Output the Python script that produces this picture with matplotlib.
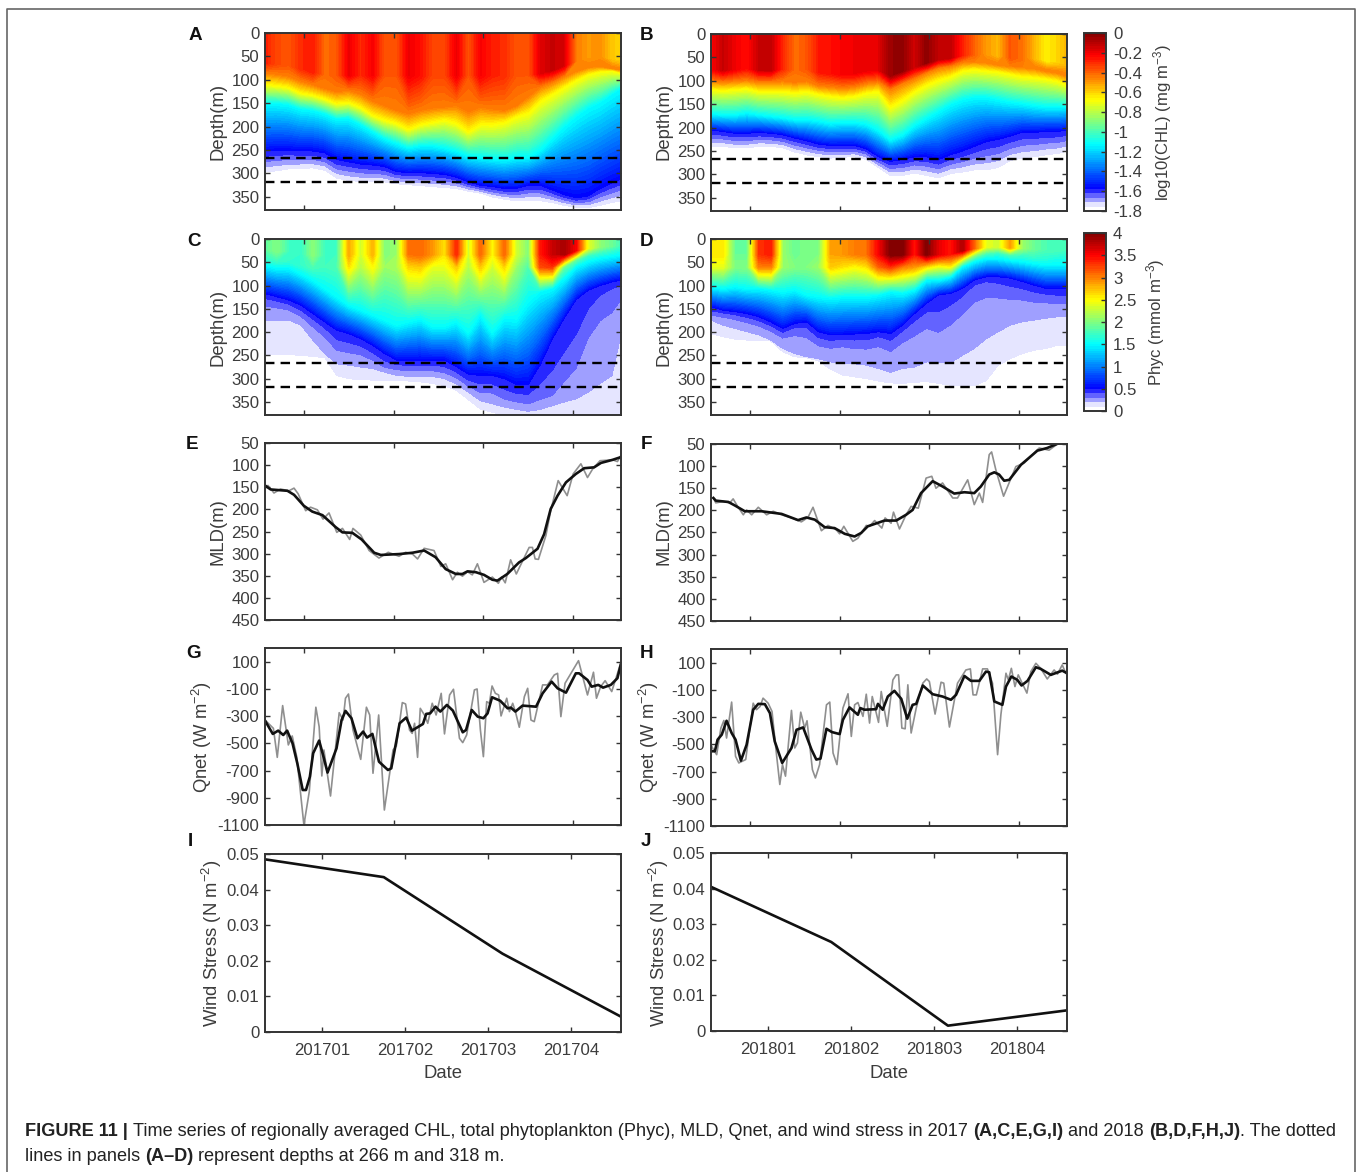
import matplotlib
matplotlib.use('Agg')
import matplotlib.pyplot as plt
import numpy as np
from matplotlib.colors import LinearSegmentedColormap

# days since the left edge of every panel
t_grid = [0, 4, 8, 12, 16, 20, 24, 28, 32, 36, 40, 44, 48, 52, 56, 60, 64, 68, 72, 76, 80, 84, 88, 92, 96, 100, 104, 108, 112, 116, 119]
tick_days = [13.2, 43, 73, 103]
wind_tick_days = [19, 46.8, 74.5, 102.3]

# panel A: log10(CHL), surface value and depth of each isoline
a_surf = [-0.28, -0.35, -0.38, -0.3, -0.27, -0.42, -0.38, -0.2, -0.3, -0.22, -0.38, -0.38, -0.2, -0.25, -0.35, -0.35, -0.2, -0.38, -0.22, -0.28, -0.3, -0.38, -0.38, -0.18, -0.13, -0.16, -0.45, -0.5, -0.48, -0.58, -0.6]
a_orange = [85, 88, 92, 102, 110, 118, 125, 122, 130, 145, 155, 165, 172, 165, 160, 158, 155, 168, 158, 162, 165, 155, 135, 115, 105, 92, 80, 72, 70, 75, 78]
a_yellow = [110, 112, 116, 128, 132, 140, 150, 148, 158, 175, 185, 192, 205, 195, 190, 185, 192, 210, 195, 195, 190, 178, 170, 145, 130, 115, 100, 88, 82, 80, 85]
a_cyan = [150, 150, 153, 162, 165, 172, 183, 182, 195, 210, 225, 235, 245, 240, 240, 245, 252, 262, 265, 268, 270, 265, 265, 250, 225, 200, 178, 160, 148, 130, 118]
a_blue = [252, 250, 250, 252, 252, 256, 270, 275, 280, 282, 285, 296, 298, 298, 300, 302, 308, 318, 325, 328, 332, 332, 325, 325, 335, 345, 352, 348, 332, 320, 312]
a_pale = [297, 294, 290, 289, 288, 293, 310, 315, 317, 318, 318, 322, 324, 326, 328, 330, 332, 338, 342, 350, 355, 358, 358, 358, 362, 368, 372, 373, 368, 362, 358]

# panel B
b_surf = [-0.22, -0.13, -0.2, -0.25, -0.13, -0.12, -0.3, -0.42, -0.38, -0.27, -0.25, -0.22, -0.2, -0.2, -0.18, -0.05, -0.03, -0.15, -0.03, -0.12, -0.12, -0.28, -0.4, -0.5, -0.55, -0.38, -0.42, -0.55, -0.65, -0.6, -0.55]
b_orange = [100, 102, 100, 98, 102, 102, 100, 103, 100, 110, 112, 115, 112, 105, 102, 118, 105, 95, 82, 72, 68, 60, 58, 60, 65, 68, 70, 72, 78, 82, 88]
b_yellow = [118, 120, 118, 116, 122, 122, 122, 125, 122, 128, 132, 135, 132, 125, 122, 155, 140, 122, 108, 98, 90, 78, 75, 78, 80, 85, 90, 92, 95, 100, 108]
b_cyan = [170, 172, 172, 168, 172, 175, 178, 182, 182, 185, 190, 188, 188, 192, 205, 225, 215, 195, 180, 165, 150, 140, 135, 135, 140, 145, 148, 152, 155, 155, 155]
b_blue = [205, 208, 212, 212, 210, 212, 215, 222, 228, 235, 238, 238, 238, 245, 262, 272, 268, 262, 262, 268, 258, 250, 240, 230, 225, 218, 210, 210, 208, 208, 205]
b_pale = [240, 240, 243, 243, 240, 240, 243, 252, 258, 262, 265, 263, 262, 268, 285, 302, 302, 297, 302, 307, 298, 295, 290, 290, 285, 270, 265, 262, 258, 255, 250]

# panel C: Phyc
c_surf = [1.85, 2.0, 1.75, 1.7, 2.05, 1.75, 1.75, 2.85, 2.3, 2.8, 2.0, 2.1, 3.05, 3.1, 2.9, 2.6, 3.35, 2.3, 3.1, 2.5, 3.1, 2.3, 2.0, 3.4, 3.7, 3.85, 3.5, 2.4, 2.05, 1.9, 1.75]
c_mid = [1.7, 1.75, 1.7, 1.7, 1.8, 1.75, 1.8, 2.6, 2.2, 2.5, 2.1, 2.15, 2.65, 2.7, 2.4, 2.4, 2.7, 2.2, 2.7, 2.3, 2.65, 2.1, 1.8, 3.2, 3.3, 1.9, 1.9, 1.7, 1.7, 1.65, 1.6]
c_cyan = [56, 62, 62, 74, 88, 106, 124, 142, 152, 163, 174, 185, 178, 172, 188, 188, 178, 201, 163, 201, 170, 172, 135, 113, 106, 84, 59, 48, 41, 37, 34]
c_blue = [117, 124, 131, 142, 160, 178, 196, 203, 214, 228, 246, 260, 260, 260, 260, 260, 274, 290, 293, 293, 300, 312, 312, 270, 215, 170, 130, 110, 100, 92, 88]
c_band3 = [135, 140, 146, 160, 180, 200, 230, 236, 241, 255, 272, 277, 279, 279, 279, 283, 294, 312, 324, 324, 338, 345, 349, 338, 329, 293, 257, 178, 135, 117, 106]
c_band2 = [174, 174, 174, 185, 217, 246, 268, 271, 275, 278, 286, 293, 295, 295, 295, 300, 311, 329, 347, 354, 361, 366, 370, 366, 358, 350, 343, 329, 310, 293, 206]
c_band1 = [250, 248, 248, 250, 252, 255, 293, 300, 302, 303, 303, 304, 305, 307, 310, 315, 325, 345, 365, 372, 379, 385, 395, 400, 400, 400, 400, 400, 400, 400, 400]

# panel D
d_surf = [2.6, 2.6, 1.9, 1.9, 3.3, 3.4, 2.1, 1.9, 2.0, 2.0, 2.85, 2.9, 3.0, 3.05, 3.5, 4.0, 4.0, 3.4, 4.0, 3.6, 3.4, 3.8, 3.1, 2.4, 2.3, 2.9, 2.1, 1.9, 1.8, 1.8, 1.75]
d_mid = [2.4, 2.4, 2.0, 2.0, 3.0, 3.0, 2.1, 2.0, 2.0, 2.1, 2.7, 2.6, 2.5, 2.6, 3.1, 3.3, 3.0, 2.9, 2.6, 2.4, 2.5, 2.4, 2.0, 1.8, 1.7, 1.8, 1.7, 1.7, 1.65, 1.6, 1.6]
d_cyan = [102, 106, 102, 106, 106, 109, 113, 109, 120, 124, 127, 124, 124, 124, 120, 113, 116, 109, 88, 88, 81, 59, 48, 41, 41, 45, 48, 52, 55, 55, 55]
d_blue = [145, 153, 156, 160, 167, 178, 192, 181, 178, 199, 206, 206, 204, 203, 199, 203, 185, 160, 138, 120, 117, 106, 88, 81, 81, 84, 91, 99, 106, 106, 106]
d_band3 = [160, 163, 167, 174, 181, 192, 206, 196, 199, 221, 226, 221, 226, 226, 217, 228, 206, 188, 170, 181, 160, 135, 106, 99, 105, 113, 117, 124, 127, 131, 131]
d_band2 = [174, 185, 192, 199, 206, 217, 235, 246, 253, 257, 264, 266, 268, 271, 278, 286, 278, 275, 264, 265, 266, 250, 235, 214, 199, 185, 178, 174, 170, 167, 167]
d_band1 = [203, 210, 215, 217, 217, 219, 242, 253, 255, 262, 280, 292, 296, 300, 305, 309, 310, 308, 306, 310, 314, 315, 315, 304, 271, 257, 246, 239, 235, 228, 228]

chl_iso = [-0.45, -0.675, -1.125, -1.575, -1.755]
phyc_iso = [1.5, 0.5, 0.33, 0.2, 0.1]

# panel E: MLD
e_grey_t = [0, 1, 3, 5.2, 8, 9.7, 11.1, 13.6, 15.2, 17.5, 19.4, 21.4, 24, 25.9, 28.3, 29.4, 32, 34.8, 38.1, 41.2, 44.8, 47, 49.3, 51, 53.2, 56.5, 58.8, 60.4, 62.7, 64.3, 66, 67.7, 69.3, 71, 73.2, 76, 78, 79.1, 80.3, 82.1, 84, 88.3, 89.4, 90.3, 91.4, 93.9, 95.5, 98, 101, 103, 105.6, 107.8, 109.5, 112, 116.2, 117.8, 118.9]
e_grey = [150, 146, 163, 154, 158, 152, 165, 203, 195, 201, 222, 208, 252, 243, 268, 243, 258, 293, 310, 297, 306, 297, 301, 312, 288, 293, 329, 323, 359, 342, 351, 341, 348, 323, 365, 353, 367, 353, 366, 314, 346, 286, 286, 312, 313, 259, 203, 135, 169, 120, 97, 128, 109, 90, 88, 92, 79]
e_black_t = [0, 1.9, 7.5, 9.7, 13, 15.8, 19.2, 23.6, 25.9, 29.2, 32.3, 36.5, 38.7, 44.8, 49.3, 53.2, 57, 60.4, 63.8, 66, 67.7, 70.5, 73.2, 76, 77.7, 81, 84.9, 87.2, 91.1, 93.3, 95.5, 97.8, 100.6, 103.9, 106.7, 110, 112.3, 116.2, 118.9]
e_black = [146, 155, 158, 167, 192, 205, 213, 240, 252, 253, 268, 298, 303, 301, 298, 293, 308, 335, 346, 346, 340, 342, 348, 359, 361, 346, 320, 310, 289, 256, 199, 169, 139, 120, 107, 105, 95, 88, 82]

# panel F
f_grey_t = [0.8, 1.6, 4.1, 6.3, 7.4, 8.9, 10.8, 11.9, 13.6, 15.8, 18.6, 20.8, 23.6, 27, 30.2, 32.4, 34.1, 36.9, 39.1, 41.9, 43, 44.4, 47.4, 49.1, 51.9, 53, 54.7, 57.1, 58.2, 60.2, 61, 63, 65.2, 66.9, 69.3, 71.9, 73.8, 75.2, 77.4, 80.8, 82.4, 85.8, 88, 89.7, 90.8, 93, 93.8, 95.2, 97.8, 101.9, 104.7, 109.7, 113, 115.8]
f_grey = [172, 183, 180, 183, 174, 191, 210, 199, 210, 193, 210, 202, 210, 217, 226, 216, 193, 246, 234, 244, 253, 236, 270, 263, 234, 236, 223, 240, 217, 229, 204, 242, 210, 191, 195, 127, 123, 150, 138, 172, 172, 131, 187, 161, 182, 74, 68, 108, 168, 101, 93, 59, 64, 50]
f_black_t = [0.8, 1.6, 5.8, 8, 11.3, 16.9, 23.6, 29.1, 31.9, 34.7, 38, 41.3, 44.7, 48, 50.2, 52.4, 58, 61.9, 65.2, 67.4, 70.2, 74.1, 77.4, 81.3, 84.7, 88, 90.2, 93, 94.7, 96.3, 98, 99.7, 103.6, 109.1, 112.4, 116.3]
f_black = [172, 178, 181, 189, 202, 202, 208, 222, 216, 221, 238, 240, 253, 259, 251, 236, 223, 223, 210, 199, 161, 134, 146, 162, 159, 161, 146, 119, 114, 119, 133, 131, 97, 65, 59, 48]

# panel G: Qnet
g_grey_t = [0, 2.8, 4.1, 5.9, 7.8, 9.1, 10.6, 13, 14.8, 17, 18.1, 19, 19.7, 21.9, 24.8, 26.1, 26.9, 27.9, 29.4, 32, 33.9, 35, 36.1, 38, 39.9, 42.8, 43.9, 45.9, 47, 48.3, 49.2, 50, 51, 51.9, 53.3, 54.4, 55.9, 57.2, 58.9, 60, 61.7, 63, 65, 66.1, 67.4, 70, 70.9, 72, 73, 74.1, 75, 75.9, 77, 78.1, 78.9, 80.8, 81.7, 82.8, 83.7, 85, 86.7, 87.8, 88.9, 90, 92.8, 94.4, 96.7, 97.8, 98.9, 100.3, 104.8, 107.8, 109.8, 110.8, 112.2, 113.7, 115.9, 118.9]
g_grey = [-329, -390, -603, -223, -512, -446, -598, -1100, -855, -235, -378, -740, -549, -887, -275, -329, -169, -138, -402, -618, -235, -292, -720, -292, -990, -549, -520, -201, -211, -402, -427, -353, -603, -243, -292, -353, -206, -292, -133, -431, -145, -103, -463, -495, -439, -108, -101, -402, -598, -194, -206, -79, -133, -145, -299, -169, -267, -206, -267, -382, -157, -96, -329, -341, -71, -71, 2, 14, -304, -59, 107, -145, 22, -169, -84, -40, -120, 88]
g_black_t = [0, 2.6, 4.4, 6.1, 7.4, 9.2, 10.8, 12.6, 13.7, 15, 16.1, 18.1, 19.4, 20.9, 23.9, 25.6, 26.9, 28.9, 30.9, 32.8, 34.1, 35.9, 38.1, 41.1, 42.2, 45, 47.2, 49.1, 52.8, 53.9, 55.2, 57, 58.6, 60.8, 62.8, 66.1, 67.2, 69.1, 71.1, 73, 74.4, 75.9, 78.6, 81.1, 82.2, 83.7, 86.1, 90.6, 92.8, 95.8, 97.8, 100.6, 103.9, 105, 107.8, 109.2, 111.4, 113, 115.6, 117.8, 118.9]
g_black = [-333, -431, -407, -439, -407, -500, -647, -843, -843, -745, -573, -480, -586, -715, -537, -329, -262, -316, -463, -414, -458, -431, -635, -696, -684, -353, -311, -407, -358, -284, -280, -231, -267, -218, -260, -419, -402, -255, -304, -316, -280, -162, -187, -243, -238, -267, -223, -231, -133, -47, -96, -128, 14, 14, -35, -84, -71, -91, -71, -22, 76]

# panel H
h_grey_t = [0, 0.8, 1.9, 3.3, 4.3, 5.2, 6.9, 8.2, 9.3, 11.6, 12.4, 14.1, 15.2, 16.4, 17.4, 19.1, 20.4, 21.9, 23, 23.9, 24.9, 26.9, 28, 28.9, 30, 31.3, 32.1, 33.9, 34.9, 36.3, 38.6, 39.7, 40.8, 42.1, 44.1, 45.8, 46.9, 48, 49.1, 50.8, 51.9, 53, 53.9, 56, 56.9, 58.9, 60.8, 61.9, 62.7, 63.8, 64.9, 65.8, 66.9, 68.6, 70.8, 72.1, 73, 74.9, 76.9, 77.8, 79.7, 82.4, 85.2, 86.7, 87.6, 88.7, 90.8, 92.4, 94.1, 95.8, 96.9, 98.6, 99.4, 100.4, 101.6, 102.7, 105.6, 106.9, 108.6, 110.2, 112.4, 114.7, 115.8, 117.4, 118.6]
h_grey = [-503, -539, -576, -381, -325, -454, -190, -588, -637, -612, -478, -198, -246, -222, -161, -198, -259, -576, -795, -649, -734, -251, -527, -490, -264, -381, -327, -686, -747, -649, -210, -190, -564, -649, -234, -129, -442, -210, -193, -295, -132, -344, -149, -339, -112, -368, -27, 10, 10, -381, -386, -63, -417, -234, -51, -20, -39, -278, -44, -51, -373, -51, 46, 54, -137, -137, 54, 54, -51, -576, -283, 22, -27, 58, -76, 10, -124, 34, 95, 58, -20, 46, 15, 83, 22]
h_black_t = [0, 1.3, 2.2, 3.6, 5.2, 6.9, 8.2, 10, 11.9, 14.1, 15.8, 18, 19.7, 21.3, 23.8, 26.9, 28.6, 30.8, 33.6, 35.2, 36.6, 38.6, 40.4, 43, 44.1, 46.3, 49.1, 49.9, 51.3, 55.2, 55.8, 57.4, 59.1, 61.3, 63.6, 65.6, 67.4, 68.6, 70.8, 74.1, 77.4, 80.2, 81.9, 84.7, 86.9, 89.7, 91.9, 93, 94.7, 97.4, 98.6, 100.4, 102.4, 103.8, 105.8, 108.6, 110.2, 113.6, 117.4, 118.6]
h_black = [-551, -551, -466, -429, -327, -417, -466, -620, -503, -246, -203, -205, -271, -478, -637, -527, -393, -376, -539, -612, -605, -386, -410, -425, -320, -229, -283, -234, -246, -242, -203, -246, -149, -107, -166, -312, -210, -203, -68, -132, -149, -173, -137, 2, -34, -34, 34, 29, -185, -210, -76, -2, -27, -68, -34, 66, 54, 10, 41, 27]

# panels I, J: wind stress
i_t = [0, 39.7, 79.4, 119]
i_wind = [0.0485, 0.0435, 0.022, 0.0043]
j_t = [0, 40.2, 79.2, 119]
j_wind = [0.0405, 0.025, 0.0015, 0.0058]

depth_lines = [266, 318]
chl_ticks = [0, -0.2, -0.4, -0.6, -0.8, -1, -1.2, -1.4, -1.6, -1.8]
phyc_ticks = [0, 0.5, 1, 1.5, 2, 2.5, 3, 3.5, 4]
labels_2017 = ['201701', '201702', '201703', '201704']
labels_2018 = ['201801', '201802', '201803', '201804']

W, H = 1358, 1172
GREY = '#3c3c3c'
EDGE = '#333333'

plt.rcParams['font.family'] = ['Liberation Sans', 'DejaVu Sans']
plt.rcParams['mathtext.default'] = 'regular'
plt.rcParams['axes.unicode_minus'] = False
TICK_SIZE = 12.1

fig = plt.figure(figsize=(W / 100, H / 100), dpi=100)

ocean = LinearSegmentedColormap.from_list('ocean', [
    (0, (1, 1, 1)), (0.025, (1, 1, 1)), (0.125, (0, 0, 1)), (0.375, (0, 1, 1)),
    (0.625, (1, 1, 0)), (0.875, (1, 0, 0)), (1, (0.5, 0, 0))], N=256)


def px_axes(left, top, right, bottom):
    return fig.add_axes([left / W, 1 - bottom / H, (right - left) / W, (bottom - top) / H])


def style(ax, ticks=tick_days):
    ax.set_xlim(0, 119)
    ax.set_xticks(ticks)
    ax.set_xticklabels([])
    ax.tick_params(direction='in', length=3.5, width=1, top=True, right=True, color=EDGE,
                   labelsize=TICK_SIZE, labelcolor=GREY, pad=4)
    for s in ax.spines.values():
        s.set_linewidth(1.4)
        s.set_color(EDGE)


def draw_field(ax, surf, mid, iso_vals, iso_depths, vmin, vmax, cap):
    t = np.array(t_grid, dtype=float)
    mid_d = np.minimum(cap, 0.75 * np.array(iso_depths[0]))
    rows_d = [np.zeros(len(t)), 0.55 * mid_d, mid_d] + [np.array(d, dtype=float) for d in iso_depths] + [np.full(len(t), 420.0)]
    rows_v = [np.array(surf), np.array(surf), np.array(mid)] + [np.full(len(t), v) for v in iso_vals] + [np.full(len(t), vmin - 0.4)]
    D = np.vstack(rows_d)
    V = np.vstack(rows_v)
    T = np.tile(t, (D.shape[0], 1))
    # coarse bands under the blue, fine steps above it
    split = vmin + 0.125 * (vmax - vmin)
    levels = np.concatenate([np.linspace(vmin, split, 6)[:-1], np.linspace(split, vmax, 71)])
    cs = ax.contourf(T, D, V, levels=levels, cmap=ocean)
    for d in depth_lines:
        ax.axhline(d, color='black', lw=1.7, linestyle=(0, (4, 2.6)))
    ax.set_ylim(378, 0)
    ax.set_yticks(range(0, 351, 50))
    style(ax)
    return cs


def draw_cbar(cs, left, top, right, bottom, ticks):
    cax = px_axes(left, top, right, bottom)
    cb = fig.colorbar(cs, cax=cax, spacing='proportional')
    cb.set_ticks(ticks)
    cb.set_ticklabels([str(v) for v in ticks])
    cax.tick_params(direction='in', length=3.5, width=1, color=EDGE, labelsize=TICK_SIZE, labelcolor=GREY, pad=5)
    cb.outline.set_linewidth(1.4)
    cb.outline.set_edgecolor(EDGE)


def side_label(x, y, text, size=13.3):
    fig.text(x / W, 1 - y / H, text, rotation=90, ha='center', va='center', fontsize=size, color=GREY)


ax_a = px_axes(265, 33, 621, 210)
ax_b = px_axes(711, 34, 1067, 211)
ax_c = px_axes(265, 239, 621, 415)
ax_d = px_axes(711, 239, 1067, 415)

cs1 = draw_field(ax_a, a_surf, a_surf, chl_iso, [a_orange, a_yellow, a_cyan, a_blue, a_pale], -1.8, 0, 90)
draw_field(ax_b, b_surf, b_surf, chl_iso, [b_orange, b_yellow, b_cyan, b_blue, b_pale], -1.8, 0, 90)
cs2 = draw_field(ax_c, c_surf, c_mid, phyc_iso, [c_cyan, c_blue, c_band3, c_band2, c_band1], 0, 4, 60)
draw_field(ax_d, d_surf, d_mid, phyc_iso, [d_cyan, d_blue, d_band3, d_band2, d_band1], 0, 4, 60)

draw_cbar(cs1, 1084, 33, 1106, 211, chl_ticks)
draw_cbar(cs2, 1084, 233, 1106, 411, phyc_ticks)

panels = [
    (px_axes(265, 443, 621, 620), e_grey_t, e_grey, e_black_t, e_black),
    (px_axes(711, 444, 1067, 621), f_grey_t, f_grey, f_black_t, f_black),
]
for ax, gt, gv, bt, bv in panels:
    ax.plot(gt, gv, color='#8f8f8f', lw=1.2)
    ax.plot(bt, bv, color='#111111', lw=1.9, solid_joinstyle='round')
    ax.set_ylim(450, 50)
    ax.set_yticks(range(50, 451, 50))
    style(ax)

panels = [
    (px_axes(265, 648, 621, 825), g_grey_t, g_grey, g_black_t, g_black),
    (px_axes(711, 649, 1067, 826), h_grey_t, h_grey, h_black_t, h_black),
]
for ax, gt, gv, bt, bv in panels:
    ax.plot(gt, gv, color='#8f8f8f', lw=1.2)
    ax.plot(bt, bv, color='#111111', lw=1.9, solid_joinstyle='round')
    ax.set_ylim(-1100, 200)
    ax.set_yticks(range(-1100, 101, 200))
    style(ax)

panels = [
    (px_axes(265, 854, 621, 1032), i_t, i_wind, labels_2017),
    (px_axes(711, 853, 1067, 1031), j_t, j_wind, labels_2018),
]
for ax, t, v, labs in panels:
    ax.plot(t, v, color='#111111', lw=1.9)
    ax.set_ylim(0, 0.05)
    ax.set_yticks([0, 0.01, 0.02, 0.03, 0.04, 0.05])
    ax.set_yticklabels(['0', '0.01', '0.02', '0.03', '0.04', '0.05'])
    style(ax, wind_tick_days)
    ax.set_xticklabels(labs)
    ax.tick_params(axis='x', pad=8)

for dx in [0, 447]:
    side_label(217.5 + dx, 121, 'Depth(m)')
    side_label(217.5 + dx, 327, 'Depth(m)')
    side_label(217.5 + dx, 532, 'MLD(m)')
    side_label(202 + dx, 737, 'Qnet (W m$^{-2}$)')
    side_label(212 + dx, 943, 'Wind Stress (N m$^{-2}$)')
    fig.text((443 + dx - (1 if dx else 0)) / W, 1 - 1073 / H, 'Date', ha='center', va='center', fontsize=13.3, color=GREY)

side_label(1163, 122, 'log10(CHL) (mg m$^{-3}$)', 12)
side_label(1156, 322, 'Phyc (mmol m$^{-3}$)', 12.1)

panel_letters = [('A', 195, 35.5), ('B', 647, 35.5), ('C', 194, 241.5), ('D', 647, 241.5), ('E', 192, 444.5),
                 ('F', 646, 444.5), ('G', 194, 653.5), ('H', 647, 653.5), ('I', 190, 842), ('J', 646, 842)]
for name, x, y in panel_letters:
    fig.text(x / W, 1 - y / H, name, ha='center', va='center', fontsize=13.6, fontweight='bold', color='#111111')

# frame round the figure, open at the bottom
frame = fig.add_axes([0, 0, 1, 1], facecolor='none', zorder=-1)
frame.set_xlim(0, W)
frame.set_ylim(H, 0)
frame.axis('off')
frame.plot([7, 7, 1355, 1355], [H, 9, 9, H], color='#666666', lw=1.2)

# caption with bold runs, drawn one after the other
CAP_SIZE = 13.05
line1 = [('FIGURE 11 |', True, 1), ('Time series of regionally averaged CHL, total phytoplankton (Phyc), MLD, Qnet, and wind stress in 2017', False, 1),
         ('(A,C,E,G,I)', True, 1), ('and 2018', False, 1), ('(B,D,F,H,J)', True, 0), ('. The dotted', False, 0)]
line2 = [('lines in panels', False, 1), ('(A\u2013D)', True, 1), ('represent depths at 266 m and 318 m.', False, 0)]
renderer = fig.canvas.get_renderer()
for runs, base in [(line1, 1136), (line2, 1161)]:
    x = 25.0
    for text, bold, gap in runs:
        tx = fig.text(x / W, 1 - base / H, text, fontsize=CAP_SIZE, color='#222222',
                      fontweight='bold' if bold else 'normal', ha='left', va='baseline')
        x += tx.get_window_extent(renderer).width + gap * CAP_SIZE * 100 / 72 * 0.278

fig.savefig('out.png', dpi=100)
